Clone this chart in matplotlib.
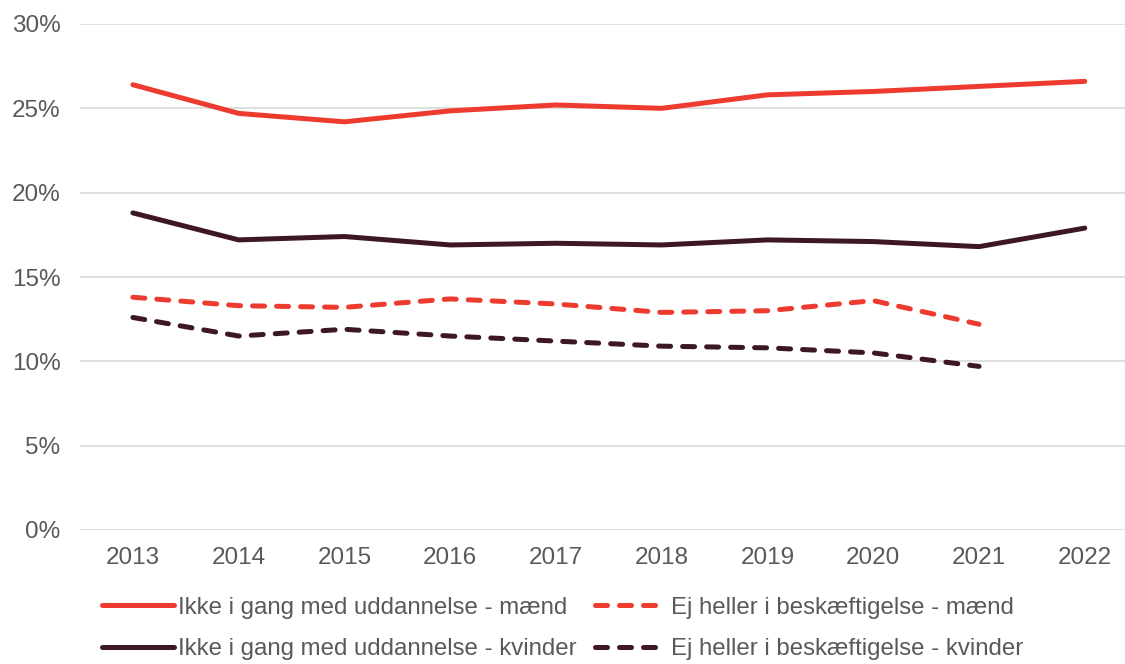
import matplotlib
matplotlib.use("Agg")
import matplotlib.pyplot as plt

plt.rcParams['font.family'] = ['Liberation Sans', 'DejaVu Sans']

years = ['2013', '2014', '2015', '2016', '2017', '2018', '2019', '2020', '2021', '2022']

# values in percent
udd_maend = [26.4, 24.7, 24.2, 24.85, 25.2, 25.0, 25.8, 26.0, 26.3, 26.6]
udd_kvinder = [18.8, 17.2, 17.4, 16.9, 17.0, 16.9, 17.2, 17.1, 16.8, 17.9]
besk_maend = [13.8, 13.3, 13.2, 13.7, 13.4, 12.9, 13.0, 13.6, 12.2]
besk_kvinder = [12.6, 11.5, 11.9, 11.5, 11.2, 10.9, 10.8, 10.5, 9.7]

labels = ['Ikke i gang med uddannelse - mænd',
          'Ej heller i beskæftigelse - mænd',
          'Ikke i gang med uddannelse - kvinder',
          'Ej heller i beskæftigelse - kvinder']

red = '#EE3B2F'
dark = '#3D1824'
grey = '#595959'

fig = plt.figure(figsize=(11.25, 6.64), dpi=100)
ax = fig.add_axes([80 / 1125, 1 - 530 / 664, 1 - 80 / 1125, (530 - 24) / 664])

x = list(range(len(years)))
lw = 3.6
l1, = ax.plot(x, udd_maend, color=red, lw=lw, solid_capstyle='round', solid_joinstyle='round')
l3, = ax.plot(x, udd_kvinder, color=dark, lw=lw, solid_capstyle='round', solid_joinstyle='round')
l2, = ax.plot(x[:len(besk_maend)], besk_maend, color=red, lw=lw, dashes=(2.4, 2.4),
              dash_capstyle='round')
l4, = ax.plot(x[:len(besk_kvinder)], besk_kvinder, color=dark, lw=lw, dashes=(2.4, 2.4),
              dash_capstyle='round')

ax.set_ylim(0, 30)
ax.set_xlim(-0.5, 9.38)
ax.set_yticks(range(0, 31, 5))
ax.set_yticklabels([f'{v}%' for v in range(0, 31, 5)])
ax.set_xticks(x)
ax.set_xticklabels(years)
ax.grid(axis='y', color='#D9D9D9', lw=1.2)
ax.set_axisbelow(True)
for s in ax.spines.values():
    s.set_visible(False)
ax.tick_params(length=0, labelsize=17.5, colors=grey)
ax.tick_params(axis='x', pad=12)
ax.tick_params(axis='y', pad=14)

# legend fills column by column, so order handles for 2x2 row layout
leg = fig.legend([l1, l3, l2, l4], [labels[0], labels[2], labels[1], labels[3]],
                 ncol=2, loc='center', bbox_to_anchor=(0.5, 0.0535), frameon=False,
                 fontsize=17.3, handlelength=3.0, handletextpad=0.17,
                 columnspacing=0.75, labelspacing=0.8, borderpad=0)
for t in leg.get_texts():
    t.set_color(grey)

fig.savefig('out.png', dpi=100)
